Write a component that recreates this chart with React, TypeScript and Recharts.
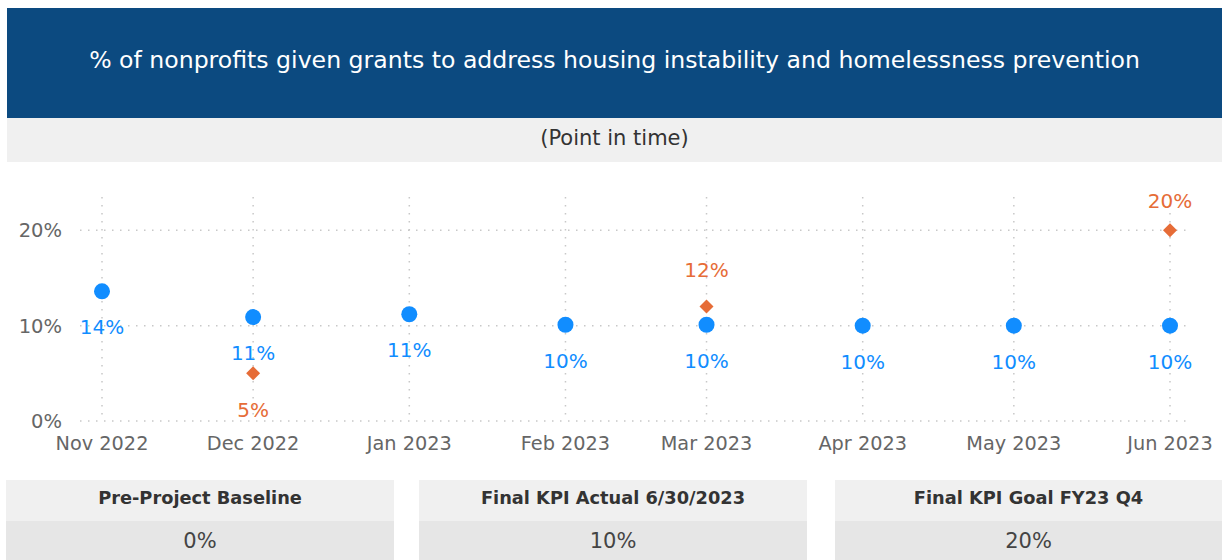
import { ScatterChart, Scatter, XAxis, YAxis, CartesianGrid } from "recharts";

// month starts (UTC ms) for the time axis
const monthStarts = [
  Date.UTC(2022, 10, 1),
  Date.UTC(2022, 11, 1),
  Date.UTC(2023, 0, 1),
  Date.UTC(2023, 1, 1),
  Date.UTC(2023, 2, 1),
  Date.UTC(2023, 3, 1),
  Date.UTC(2023, 4, 1),
  Date.UTC(2023, 5, 1),
];
const monthLabels = [
  "Nov 2022",
  "Dec 2022",
  "Jan 2023",
  "Feb 2023",
  "Mar 2023",
  "Apr 2023",
  "May 2023",
  "Jun 2023",
];
const actualValues = [0.136, 0.109, 0.112, 0.101, 0.101, 0.1, 0.1, 0.1];
const goalValues: (number | null)[] = [null, 0.05, null, null, 0.12, null, null, 0.2];
const yTicks = [0, 0.1, 0.2];

const kpiCards = [
  { title: "Pre-Project Baseline", value: "0%" },
  { title: "Final KPI Actual 6/30/2023", value: "10%" },
  { title: "Final KPI Goal FY23 Q4", value: "20%" },
];

const FONT = '"DejaVu Sans", "Segoe UI", "Open Sans", sans-serif';
const BLUE = "#118DFF";
const ORANGE = "#E66C37";
const PLOT_TOP = 27;

const actualData = monthStarts.map((t, i) => ({ t, v: actualValues[i], i }));
const goalData = monthStarts
  .map((t, i) => ({ t, v: goalValues[i], i }))
  .filter((d) => d.v !== null);

const pct = (v: number) => `${Math.round(v * 100)}%`;
const labelFor = (t: number) => monthLabels[monthStarts.indexOf(t)] ?? "";

function ActualDot(props: any) {
  const { cx, cy, payload } = props;
  return (
    <g>
      <circle cx={cx} cy={cy} r={8} fill={BLUE} />
      <text
        x={cx}
        y={cy + 36}
        textAnchor="middle"
        dominantBaseline="central"
        fontSize={20}
        fontFamily={FONT}
        fill={BLUE}
      >
        {pct(payload.v)}
      </text>
    </g>
  );
}

function GoalDot(props: any) {
  const { cx, cy, payload } = props;
  // label goes below when it sits under the actual point, otherwise above (kept inside plot)
  const below = payload.v < actualValues[payload.i];
  const s = 7;
  return (
    <g>
      <polygon
        points={`${cx},${cy - s} ${cx + s},${cy} ${cx},${cy + s} ${cx - s},${cy}`}
        fill={ORANGE}
      />
      <text
        x={cx}
        y={below ? cy + 37 : Math.max(cy - 37, PLOT_TOP + 4)}
        textAnchor="middle"
        dominantBaseline="central"
        fontSize={20}
        fontFamily={FONT}
        fill={ORANGE}
      >
        {pct(payload.v)}
      </text>
    </g>
  );
}

export default function App() {
  return (
    <div
      style={{
        position: "fixed",
        left: 0,
        top: 0,
        width: 1222,
        height: 560,
        overflow: "hidden",
        background: "#fff",
        fontFamily: FONT,
      }}
    >
      {/* title bar */}
      <div
        style={{
          position: "absolute",
          left: 7,
          top: 8,
          width: 1215,
          height: 110,
          paddingBottom: 6,
          boxSizing: "border-box",
          background: "#0C4A80",
          color: "#fff",
          fontSize: 23.6,
          display: "flex",
          alignItems: "center",
          justifyContent: "center",
        }}
      >
        % of nonprofits given grants to address housing instability and homelessness prevention
      </div>
      <div
        style={{
          position: "absolute",
          left: 7,
          top: 118,
          width: 1215,
          height: 44,
          paddingBottom: 4,
          boxSizing: "border-box",
          background: "#F0F0F0",
          color: "#333",
          fontSize: 21,
          display: "flex",
          alignItems: "center",
          justifyContent: "center",
        }}
      >
        (Point in time)
      </div>

      {/* chart */}
      <div style={{ position: "absolute", left: 0, top: 170 }}>
        <ScatterChart
          width={1222}
          height={290}
          margin={{ top: PLOT_TOP, right: 32, left: 0, bottom: 0 }}
        >
          <CartesianGrid
            stroke="#C8C8C8"
            strokeWidth={1.5}
            strokeDasharray="1.5 6.5"
            syncWithTicks
          />
          <XAxis
            type="number"
            dataKey="t"
            domain={["dataMin", "dataMax"]}
            ticks={monthStarts}
            tickFormatter={labelFor}
            padding={{ left: 22, right: 20 }}
            axisLine={false}
            tickLine={false}
            height={39}
            tickMargin={9}
            tick={{ fontSize: 19.3, fill: "#666", fontFamily: FONT }}
            interval={0}
          />
          <YAxis
            type="number"
            dataKey="v"
            domain={[0, 0.235]}
            ticks={yTicks}
            tickFormatter={pct}
            axisLine={false}
            tickLine={false}
            width={80}
            tickMargin={12}
            tick={{ fontSize: 19.5, fill: "#666", fontFamily: FONT }}
          />
          <Scatter
            data={actualData}
            fill={BLUE}
            shape={ActualDot}
            isAnimationActive={false}
          />
          <Scatter
            data={goalData}
            fill={ORANGE}
            shape={GoalDot}
            isAnimationActive={false}
          />
        </ScatterChart>
      </div>

      {/* KPI cards */}
      {kpiCards.map((c, i) => (
        <div
          key={c.title}
          style={{
            position: "absolute",
            left: [6, 419, 835][i],
            top: 480,
            width: [388, 388, 387][i],
            height: 80,
          }}
        >
          <div
            style={{
              height: 41,
              paddingBottom: 6,
              boxSizing: "border-box",
              background: "#F0F0F0",
              color: "#333",
              fontWeight: 700,
              fontSize: 17.8,
              display: "flex",
              alignItems: "center",
              justifyContent: "center",
            }}
          >
            {c.title}
          </div>
          <div
            style={{
              height: 39,
              background: "#E6E6E6",
              color: "#444",
              fontSize: 21,
              display: "flex",
              alignItems: "center",
              justifyContent: "center",
            }}
          >
            {c.value}
          </div>
        </div>
      ))}
    </div>
  );
}
